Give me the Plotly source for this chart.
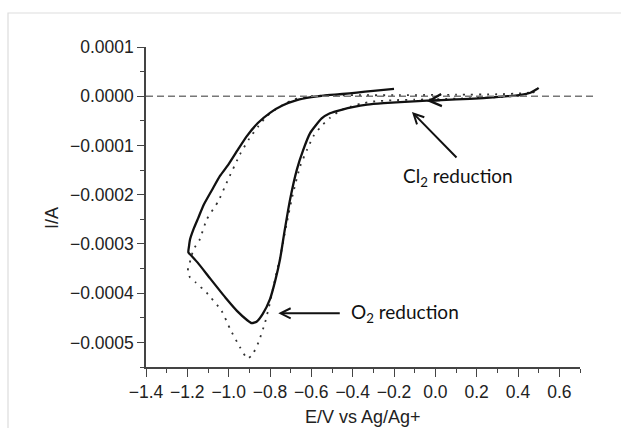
import plotly.graph_objects as go

# ---- data (potential in V, current in A) ----
solid_x = [0.50, 0.49, 0.46, 0.427, 0.35, 0.233, 0.10, -0.041, -0.17, -0.25, -0.33, -0.40,
           -0.45, -0.51, -0.55, -0.58, -0.606, -0.64, -0.67, -0.703, -0.73, -0.751, -0.775,
           -0.80, -0.835, -0.865, -0.888, -0.91, -0.96, -1.01, -1.09, -1.15, -1.18, -1.195,
           -1.192, -1.187, -1.17, -1.147, -1.12, -1.08, -1.042, -1.00, -0.95, -0.912, -0.86,
           -0.80, -0.74, -0.67, -0.60, -0.541, -0.45, -0.38, -0.30, -0.20]
solid_y = [0.17e-4, 0.14e-4, 0.07e-4, 0.04e-4, 0.0, -0.04e-4, -0.065e-4, -0.09e-4, -0.12e-4,
           -0.14e-4, -0.17e-4, -0.22e-4, -0.27e-4, -0.345e-4, -0.45e-4, -0.6e-4, -0.75e-4,
           -1.1e-4, -1.49e-4, -2.1e-4, -2.75e-4, -3.3e-4, -3.75e-4, -4.12e-4, -4.42e-4,
           -4.58e-4, -4.61e-4, -4.55e-4, -4.36e-4, -4.12e-4, -3.7e-4, -3.38e-4, -3.24e-4,
           -3.17e-4, -3.05e-4, -2.91e-4, -2.7e-4, -2.47e-4, -2.2e-4, -1.9e-4, -1.62e-4,
           -1.38e-4, -1.05e-4, -0.81e-4, -0.55e-4, -0.337e-4, -0.19e-4, -0.081e-4, -0.02e-4,
           0.014e-4, 0.045e-4, 0.075e-4, 0.11e-4, 0.15e-4]

dotted_x = [0.48, 0.46, 0.42, 0.30, 0.10, -0.10, -0.20, -0.30, -0.36, -0.41, -0.46, -0.51,
            -0.55, -0.59, -0.62, -0.654, -0.69, -0.72, -0.75, -0.78, -0.80, -0.824, -0.856,
            -0.885, -0.909, -0.945, -0.993, -1.034, -1.107, -1.16, -1.187, -1.198, -1.185,
            -1.17, -1.14, -1.106, -1.05, -1.01, -0.945, -0.90, -0.856, -0.816, -0.76, -0.719,
            -0.687, -0.606, -0.45, -0.20, 0.10, 0.30, 0.42, 0.46, 0.48]
dotted_y = [0.09e-4, 0.06e-4, 0.02e-4, -0.02e-4, -0.05e-4, -0.07e-4, -0.08e-4, -0.107e-4,
            -0.15e-4, -0.21e-4, -0.29e-4, -0.44e-4, -0.6e-4, -0.81e-4, -1.08e-4, -1.42e-4,
            -2.0e-4, -2.6e-4, -3.25e-4, -3.8e-4, -4.19e-4, -4.6e-4, -5.0e-4, -5.25e-4,
            -5.33e-4, -5.1e-4, -4.73e-4, -4.36e-4, -3.99e-4, -3.78e-4, -3.68e-4, -3.55e-4,
            -3.33e-4, -3.11e-4, -2.91e-4, -2.5e-4, -2.13e-4, -1.76e-4, -1.18e-4, -0.86e-4,
            -0.608e-4, -0.406e-4, -0.23e-4, -0.134e-4, -0.067e-4, 0.0, 0.02e-4, 0.02e-4,
            0.03e-4, 0.04e-4, 0.06e-4, 0.08e-4, 0.12e-4]

x_range = [-1.4, 0.7]
y_range = [-0.00055, 0.0001]

labels = ["Cl<sub>2</sub> reduction", "O<sub>2</sub> reduction"]
label_pos = [(0.112, -1.64e-4), (-0.147, -4.41e-4)]
arrow_tips = [(-0.113, -0.32e-4), (-0.760, -4.41e-4)]
scan_arrow_tip = (-0.042, -0.098e-4)

# ---- layout geometry ----
W, H = 621, 428
L, R, T, B = 146, 41, 47, 61
pw, ph = W - L - R, H - T - B

def px_to_paper_x(px):
    return (px - L) / pw

def px_to_paper_y(py):
    return (H - B - py) / ph

fig = go.Figure()
fig.add_trace(go.Scatter(x=dotted_x, y=dotted_y, mode="lines",
                         line=dict(color="#333333", width=1.8, dash="2px,6px",
                                   shape="spline", smoothing=0.5),
                         hoverinfo="skip", showlegend=False))
fig.add_trace(go.Scatter(x=solid_x, y=solid_y, mode="lines",
                         line=dict(color="#111111", width=2.3, shape="spline", smoothing=0.5),
                         hoverinfo="skip", showlegend=False))

tick_font = dict(family="Liberation Sans, Arial, sans-serif", size=17.5, color="#222222")

fig.update_xaxes(range=x_range, tick0=0, dtick=0.2, tickformat=".1f",
                 showline=True, linecolor="#444444", linewidth=1.5,
                 ticks="outside", ticklen=8, tickwidth=1.3, tickcolor="#444444",
                 minor=dict(dtick=0.1, tick0=0, ticks="outside", ticklen=4,
                            tickwidth=1.2, tickcolor="#444444"),
                 showgrid=False, zeroline=False, tickfont=tick_font)
fig.update_yaxes(range=y_range, tick0=0, dtick=0.0001, tickformat=".4f",
                 showline=True, linecolor="#444444", linewidth=1.5,
                 ticks="outside", ticklen=7, tickwidth=1.3, tickcolor="#444444",
                 minor=dict(dtick=0.00005, tick0=0, ticks="outside", ticklen=4,
                            tickwidth=1.2, tickcolor="#444444"),
                 showgrid=False, zeroline=False, tickfont=tick_font)

zero_paper_y = (0 - y_range[0]) / (y_range[1] - y_range[0])
shapes = [
    dict(type="line", xref="paper", yref="paper", x0=0, x1=px_to_paper_x(593),
         y0=zero_paper_y, y1=zero_paper_y,
         line=dict(color="#777777", width=1.5, dash="7px,4px")),
    dict(type="rect", xref="paper", yref="paper",
         x0=px_to_paper_x(8), x1=px_to_paper_x(W + 20),
         y0=px_to_paper_y(H + 20), y1=px_to_paper_y(13),
         line=dict(color="#dddddd", width=1.2), fillcolor="rgba(0,0,0,0)", layer="below"),
]

ann_font = dict(family="Lato, Open Sans, sans-serif", size=19, color="#111111")
annotations = []
for text, (lx, ly) in zip(labels, label_pos):
    annotations.append(dict(x=lx, y=ly, xref="x", yref="y", text=text, showarrow=False,
                            font=ann_font, xanchor="center", yanchor="middle"))
arrow_offsets = [(46, 47), (63, 0)]
for (tx, ty), (ax, ay) in zip(arrow_tips, arrow_offsets):
    annotations.append(dict(x=tx, y=ty, xref="x", yref="y", text="", showarrow=True,
                            ax=ax, ay=ay, arrowhead=5, arrowsize=1.0, arrowwidth=2,
                            arrowcolor="#111111", standoff=0, startstandoff=0))
annotations.append(dict(x=scan_arrow_tip[0], y=scan_arrow_tip[1], xref="x", yref="y",
                        text="", showarrow=True, ax=15, ay=-1, arrowhead=5,
                        arrowsize=1.2, arrowwidth=2, arrowcolor="#111111"))
annotations.append(dict(x=px_to_paper_x(52), y=px_to_paper_y(218), xref="paper",
                        yref="paper", text="I/A", showarrow=False, textangle=-90,
                        font=dict(family="Liberation Sans, Arial, sans-serif", size=18,
                                  color="#222222"),
                        xanchor="center", yanchor="middle"))
annotations.append(dict(x=0.5, y=px_to_paper_y(417), xref="paper", yref="paper",
                        text="E/V vs Ag/Ag+", showarrow=False,
                        font=dict(family="Liberation Sans, Arial, sans-serif", size=18,
                                  color="#222222"),
                        xanchor="center", yanchor="middle"))

fig.update_layout(width=W, height=H, margin=dict(l=L, r=R, t=T, b=B),
                  paper_bgcolor="white", plot_bgcolor="white",
                  shapes=shapes, annotations=annotations, showlegend=False)

fig.write_html("out.html")
